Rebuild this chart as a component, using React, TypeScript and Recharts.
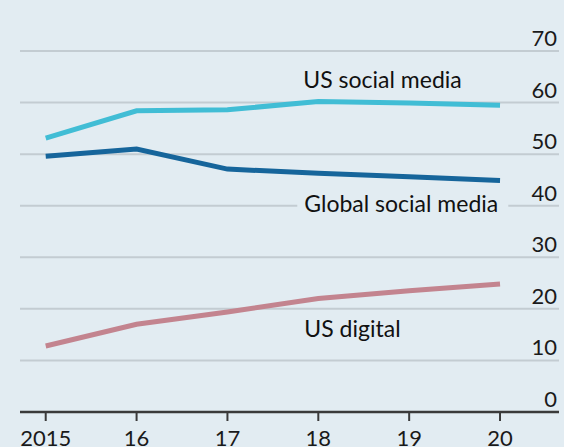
import React from "react";
import { LineChart, Line, XAxis, YAxis, CartesianGrid, LabelList } from "recharts";

const years = [2015, 2016, 2017, 2018, 2019, 2020];
const yearTickLabels = ["2015", "16", "17", "18", "19", "20"];
const usSocial = [53.1, 58.4, 58.6, 60.2, 59.9, 59.5];
const globalSocial = [49.6, 51.0, 47.1, 46.3, 45.6, 44.9];
const usDigital = [12.8, 17.0, 19.4, 22.0, 23.5, 24.8];
const yTicks = [0, 10, 20, 30, 40, 50, 60, 70];

const data = years.map((y, i) => ({
  year: y,
  usSocial: usSocial[i],
  globalSocial: globalSocial[i],
  usDigital: usDigital[i],
}));

const BG = "#e2ecf2";
const FONT = "Lato, 'Open Sans', sans-serif";

const YTick = (props: any) => {
  const { x, y, payload } = props;
  return (
    <text x={x - 2} y={y - 5} textAnchor="end" fontSize={22} fontFamily={FONT} fill="#1a1a1a">
      {payload.value}
    </text>
  );
};

const XTick = (props: any) => {
  const { x, y, index } = props;
  return (
    <text x={x} y={y + 25} textAnchor="middle" fontSize={22} fontFamily={FONT} fill="#1a1a1a">
      {yearTickLabels[index]}
    </text>
  );
};

const makeLabel = (text: string, dx: number, dy: number, boxed: boolean) => (props: any) => {
  const { x, y, index } = props;
  if (index !== 3) return null;
  const tx = x + dx;
  const ty = y + dy;
  return (
    <g>
      {boxed && <rect x={tx - 7} y={ty - 19} width={text.length * 11 + 2} height={26} fill={BG} />}
      <text x={tx} y={ty} fontSize={23} fontFamily={FONT} fill="#111">
        {text}
      </text>
    </g>
  );
};

export default function App() {
  return (
    <div style={{ position: "absolute", left: 0, top: 0, width: 564, height: 447, background: BG, overflow: "hidden" }}>
      <LineChart width={564} height={447} data={data} margin={{ top: 51, right: 0, bottom: 0, left: 20 }}>
        <CartesianGrid horizontal vertical={false} stroke="#c3ccd2" strokeWidth={2} />
        <XAxis
          dataKey="year"
          type="number"
          domain={[2014.717, 2020.649]}
          ticks={years}
          allowDataOverflow
          height={35}
          axisLine={{ stroke: "#3a3a3a", strokeWidth: 2.5 }}
          tickLine={{ stroke: "#3a3a3a", strokeWidth: 2 }}
          tickSize={9}
          tickMargin={0}
          tick={<XTick />}
          interval={0}
        />
        <YAxis
          orientation="right"
          width={5}
          domain={[0, 70]}
          ticks={yTicks}
          axisLine={false}
          tickLine={false}
          tickSize={0}
          tickMargin={0}
          tick={<YTick />}
          interval={0}
        />
        <Line dataKey="usDigital" stroke="#c3848f" strokeWidth={5} dot={false} isAnimationActive={false}>
          <LabelList dataKey="usDigital" content={makeLabel("US digital", -14, 38, false)} />
        </Line>
        <Line dataKey="globalSocial" stroke="#16659b" strokeWidth={5} dot={false} isAnimationActive={false}>
          <LabelList dataKey="globalSocial" content={makeLabel("Global social media", -14, 39, true)} />
        </Line>
        <Line dataKey="usSocial" stroke="#41bdd5" strokeWidth={5} dot={false} isAnimationActive={false}>
          <LabelList dataKey="usSocial" content={makeLabel("US social media", -15, -14, false)} />
        </Line>
      </LineChart>
    </div>
  );
}
